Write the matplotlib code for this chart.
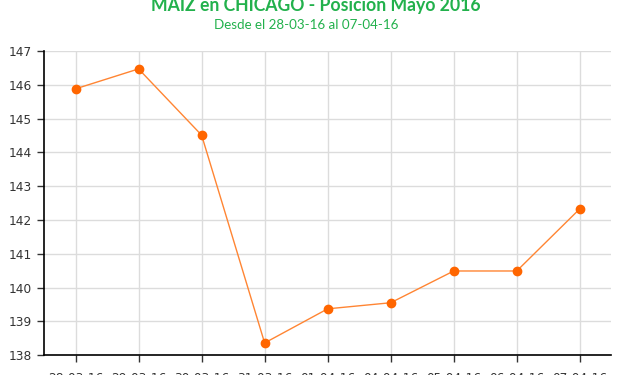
import matplotlib
matplotlib.use("Agg")
import matplotlib.pyplot as plt

fechas = ["28-03-16", "29-03-16", "30-03-16", "31-03-16", "01-04-16",
          "04-04-16", "05-04-16", "06-04-16", "07-04-16"]
precios = [145.88, 146.47, 144.51, 138.36, 139.37, 139.55, 140.49, 140.49, 142.33]
y_ticks = [138, 139, 140, 141, 142, 143, 144, 145, 146, 147]

verde = "#22b14c"
naranja = "#ff6600"

fig = plt.figure(figsize=(6.2, 3.75), dpi=100)
ax = fig.add_axes([0.071, 0.053, 0.915, 0.811])

x = list(range(len(fechas)))
ax.plot(x, precios, color="#ff8533", linewidth=1.0, zorder=3)
ax.plot(x, precios, linestyle="none", marker="o", markersize=6,
        color=naranja, zorder=4)

ax.set_xlim(-0.5, len(fechas) - 0.5)
ax.set_ylim(138, 147)
ax.set_yticks(y_ticks)
ax.set_xticks(x)
ax.set_xticklabels(fechas)

ax.grid(True, color="#dcdcdc", linewidth=1.0, zorder=0)
ax.set_axisbelow(True)
for side in ("top", "right"):
    ax.spines[side].set_visible(False)
for side in ("left", "bottom"):
    ax.spines[side].set_color("#000000")
    ax.spines[side].set_linewidth(1.2)

ax.tick_params(axis="both", direction="out", length=5, width=1,
               color="#333333", labelcolor="#333333", labelsize=8.7)
ax.tick_params(axis="x", pad=7)

fig.text(0.51, 0.985, "MAIZ en CHICAGO - Posición Mayo 2016", ha="center",
         va="center", color=verde, fontsize=12.7, fontweight="bold",
         family="Lato")
fig.text(0.494, 0.933, "Desde el 28-03-16 al 07-04-16", ha="center",
         va="center", color=verde, fontsize=9.6, family="Lato")

fig.savefig("out.png", dpi=100)
